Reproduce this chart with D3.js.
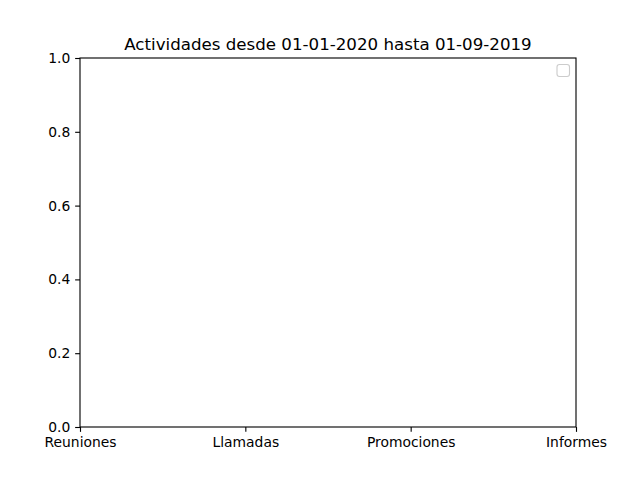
<!DOCTYPE html>
<html><head><meta charset="utf-8">
<script src="https://cdn.jsdelivr.net/npm/d3@7"></script>
<style>body{margin:0;background:#fff}svg{display:block}text{font-family:"DejaVu Sans",sans-serif}</style>
</head><body>
<script>
const title = "Actividades desde 01-01-2020 hasta 01-09-2019";
const categories = ["Reuniones", "Llamadas", "Promociones", "Informes"];
const yTicks = [0.0, 0.2, 0.4, 0.6, 0.8, 1.0];
const series = []; // no data plotted

const W = 640, H = 480;
const m = {left: 80, right: 64, top: 58, bottom: 53};
const svg = d3.select("body").append("svg").attr("width", W).attr("height", H);
const x = d3.scalePoint().domain(categories).range([m.left, W - m.right]);
const y = d3.scaleLinear().domain([0, 1]).range([H - m.bottom, m.top]);

svg.append("g").attr("transform", `translate(0,${H - m.bottom})`)
  .call(d3.axisBottom(x).tickSize(4.86).tickPadding(4.86))
  .call(g => g.select(".domain").remove())
  .selectAll("text").attr("font-size", 13.89).attr("fill", "#000");
svg.append("g").attr("transform", `translate(${m.left},0)`)
  .call(d3.axisLeft(y).tickValues(yTicks).tickFormat(d3.format(".1f")).tickSize(4.86).tickPadding(4.86))
  .call(g => g.select(".domain").remove())
  .selectAll("text").attr("font-size", 13.89).attr("fill", "#000");
svg.selectAll(".tick line").attr("stroke", "#000").attr("stroke-width", 1.11);

svg.append("rect").attr("x", m.left).attr("y", m.top)
  .attr("width", W - m.left - m.right).attr("height", H - m.top - m.bottom)
  .attr("fill", "none").attr("stroke", "#000").attr("stroke-width", 1.11);

svg.append("text").attr("x", (m.left + W - m.right) / 2).attr("y", m.top - 8.33)
  .attr("text-anchor", "middle").attr("font-size", 16.67).text(title);

// empty legend
svg.append("rect").attr("x", 557).attr("y", 64.5).attr("width", 12.5).attr("height", 12)
  .attr("rx", 2.5).attr("fill", "#fff").attr("fill-opacity", 0.8)
  .attr("stroke", "#cccccc").attr("stroke-width", 1.11);
</script>
</body></html>
